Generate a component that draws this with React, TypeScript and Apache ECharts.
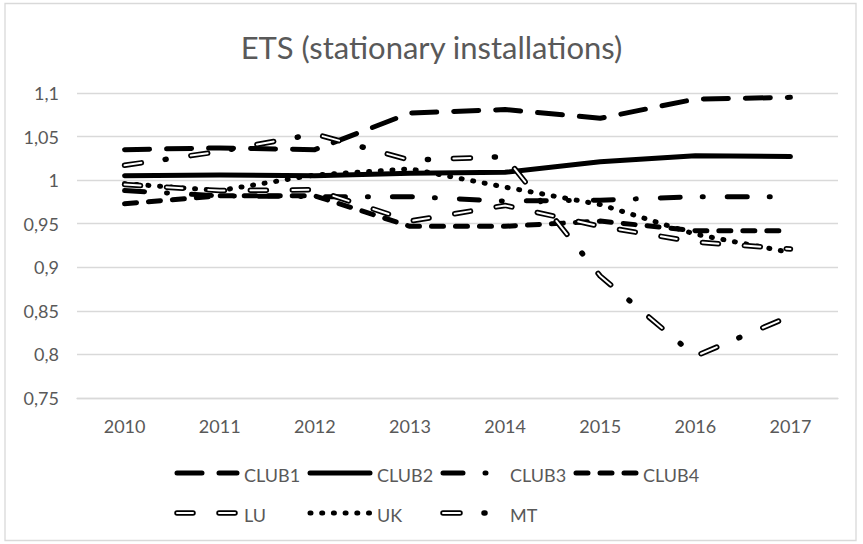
import React, { useEffect, useRef } from "react";
import * as echarts from "echarts";

const years = ["2010", "2011", "2012", "2013", "2014", "2015", "2016", "2017"];
const club1 = [1.035, 1.037, 1.035, 1.077, 1.081, 1.071, 1.093, 1.095];
const club2 = [1.005, 1.006, 1.005, 1.008, 1.009, 1.021, 1.028, 1.027];
const club3 = [0.988, 0.982, 0.981, 0.981, 0.976, 0.977, 0.981, 0.981];
const club4 = [0.973, 0.982, 0.982, 0.947, 0.947, 0.953, 0.942, 0.942];
const lu = [0.995, 0.988, 0.989, 0.953, 0.971, 0.947, 0.929, 0.921];
const uk = [0.996, 0.988, 1.006, 1.013, 0.992, 0.972, 0.938, 0.917];
const mt = [1.017, 1.033, 1.053, 1.023, 1.027, 0.89, 0.798, 0.844];

const FONT = "Lato";
const GRAY = "#595959";
const W = 5;
const OW = 5.5;
const CW = 2;

const DASH: Record<string, any> = {
  CLUB1: [25, 17],
  CLUB2: "solid",
  CLUB3: [20, 22, 1, 24],
  CLUB4: [12, 12],
  LU: [16, 26],
  UK: [1, 10.7],
  MT: [17, 24, 1, 25],
};
const CORE: Record<string, number[]> = { LU: [16, 26], MT: [17, 50] };

const fmt = (v: number) => String(Math.round(v * 100) / 100).replace(".", ",");

function line(name: string, data: number[], type: any, width = W, color = "#000", z = 2) {
  return {
    name,
    type: "line",
    data,
    symbol: "none",
    z,
    lineStyle: { color, width, type, cap: "round", join: "round" },
    itemStyle: { color },
    emphasis: { disabled: true },
  };
}

// legend layout (decoration only)
const legendRows = [
  { names: ["CLUB1", "CLUB2", "CLUB3", "CLUB4"], y: 473 },
  { names: ["LU", "UK", "MT"], y: 513 },
];
const LEG_LEFT = 175;
const LEG_STEP = 133;
const ICON_W = 64;

function legendIcons() {
  const out: any[] = [];
  legendRows.forEach((row) => {
    row.names.forEach((n, i) => {
      const x1 = LEG_LEFT + i * LEG_STEP + 2;
      const x2 = x1 + ICON_W - 4;
      const outline = n === "LU" || n === "MT";
      const d = DASH[n];
      out.push({
        type: "line",
        shape: { x1, y1: row.y, x2, y2: row.y },
        style: {
          stroke: "#000",
          lineWidth: outline ? OW : W,
          lineDash: d === "solid" ? null : d,
          lineCap: "round",
        },
        z: 100,
        silent: true,
      });
      if (outline) {
        out.push({
          type: "line",
          shape: { x1, y1: row.y, x2, y2: row.y },
          style: { stroke: "#fff", lineWidth: CW, lineDash: CORE[n], lineCap: "round" },
          z: 101,
          silent: true,
        });
      }
    });
  });
  return out;
}

function legends() {
  const out: any[] = [];
  legendRows.forEach((row) => {
    row.names.forEach((n, i) => {
      out.push({
        data: [n],
        left: LEG_LEFT + i * LEG_STEP,
        top: row.y - 7,
        itemWidth: ICON_W,
        itemHeight: 14,
        icon: "rect",
        itemStyle: { opacity: 0 },
        selectedMode: false,
        padding: 0,
        textStyle: { fontFamily: FONT, fontSize: 18, color: GRAY },
      });
    });
  });
  return out;
}

export default function App() {
  const ref = useRef<HTMLDivElement>(null);
  useEffect(() => {
    if (!ref.current) return;
    const chart = echarts.init(ref.current, undefined, { renderer: "svg" });
    chart.setOption({
      animation: false,
      backgroundColor: "#fff",
      title: {
        text: "ETS (stationary installations)",
        left: "center",
        top: 26,
        textStyle: { fontFamily: FONT, fontSize: 31, fontWeight: "normal", color: GRAY },
      },
      grid: { left: 77, right: 25, top: 93, bottom: 146 },
      legend: legends(),
      xAxis: {
        type: "category",
        data: years,
        boundaryGap: true,
        axisLine: { show: true, lineStyle: { color: "#d9d9d9", width: 1.3 } },
        axisTick: { show: false },
        axisLabel: { color: GRAY, fontFamily: FONT, fontSize: 18, margin: 19 },
      },
      yAxis: {
        type: "value",
        min: 0.75,
        max: 1.1,
        interval: 0.05,
        axisLine: { show: false },
        axisTick: { show: false },
        splitLine: { lineStyle: { color: "#d9d9d9", width: 1.3 } },
        axisLabel: { color: GRAY, fontFamily: FONT, fontSize: 18, margin: 18, formatter: fmt },
      },
      series: [
        line("CLUB1", club1, DASH.CLUB1),
        line("CLUB2", club2, DASH.CLUB2),
        line("CLUB3", club3, DASH.CLUB3),
        line("CLUB4", club4, DASH.CLUB4),
        line("LU", lu, DASH.LU, OW),
        line("LU core", lu, CORE.LU, CW, "#fff", 3),
        line("UK", uk, DASH.UK),
        line("MT", mt, DASH.MT, OW, "#000", 4),
        line("MT core", mt, CORE.MT, CW, "#fff", 5),
      ],
      graphic: [
        {
          type: "rect",
          shape: { x: 5, y: 3.5, width: 851, height: 537 },
          style: { fill: "none", stroke: "#d9d9d9", lineWidth: 1.3 },
          silent: true,
        },
        ...legendIcons(),
      ],
    });
    return () => chart.dispose();
  }, []);
  return (
    <div
      ref={ref}
      style={{ position: "absolute", left: 0, top: 0, width: 863, height: 544 }}
    />
  );
}
